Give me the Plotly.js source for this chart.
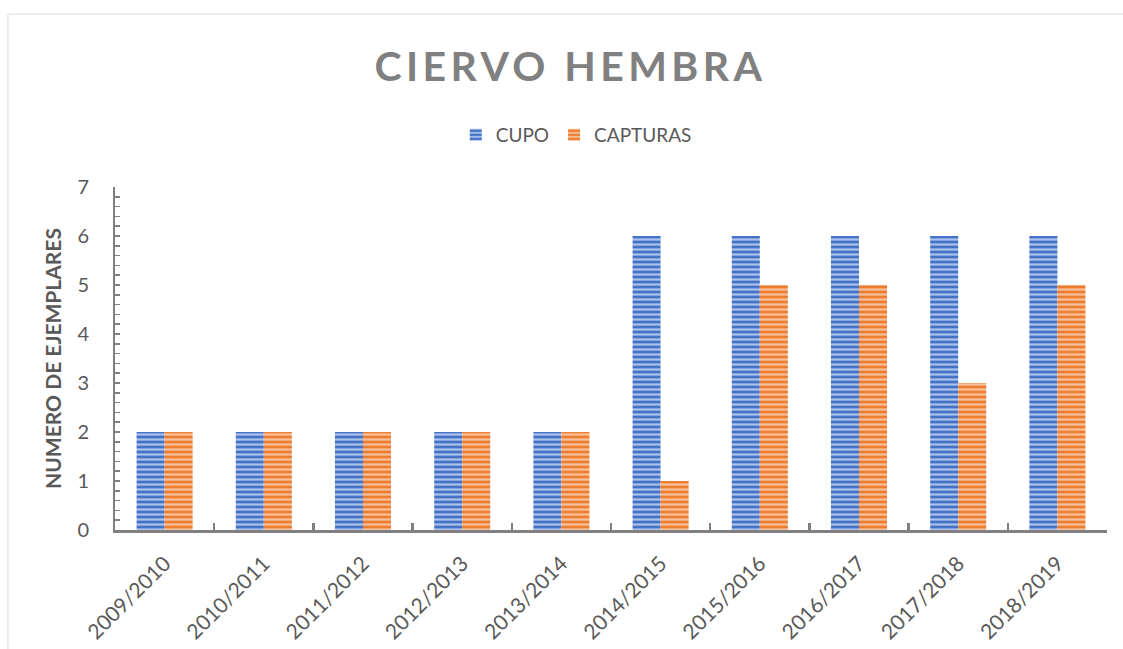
<!DOCTYPE html>
<html>
<head>
<meta charset="utf-8">
<script src="https://cdn.plot.ly/plotly-3.0.1.min.js"></script>
<style>
html,body{margin:0;padding:0;background:#fff;}
.gtitle{letter-spacing:4.4px;}
</style>
</head>
<body>
<div id="chart" style="width:1123px;height:649px;"></div>
<script>
const categories = ["2009/2010","2010/2011","2011/2012","2012/2013","2013/2014","2014/2015","2015/2016","2016/2017","2017/2018","2018/2019"];
const cupo = [2,2,2,2,2,6,6,6,6,6];
const capturas = [2,2,2,2,2,1,5,5,3,5];
const seriesNames = ["CUPO","CAPTURAS"];
const chartTitle = "CIERVO HEMBRA";
const yTitle = "NUMERO DE EJEMPLARES";

const FONT = "Lato, 'Open Sans', sans-serif";
const AX = "#808080";

function mk(name, y, bg, fg){
  return {
    type:"bar", name:name, x:categories, y:y,
    marker:{color:bg, line:{width:0},
      pattern:{shape:"-", bgcolor:bg, fgcolor:fg, size:5, solidity:0.45, fillmode:"replace"}},
    hoverinfo:"x+y+name"
  };
}
const data = [
  mk(seriesNames[0], cupo, "#4472C4", "#a9c1ec"),
  mk(seriesNames[1], capturas, "#ED7D31", "#f8c09a")
];

const layout = {
  width:1123, height:649,
  margin:{l:115, r:16, t:187, b:119, autoexpand:false},
  paper_bgcolor:"#fff", plot_bgcolor:"#fff",
  font:{family:FONT, color:"#595959", size:19},
  barmode:"group", bargap:0.435, bargroupgap:0,
  title:{text:chartTitle, x:0.508, xanchor:"center", y:0.898, yanchor:"middle",
    font:{family:FONT, size:41, color:"#808080", weight:"bold"}},
  showlegend:true,
  legend:{orientation:"h", x:0.465, xanchor:"center", y:1.1516, yanchor:"middle",
    font:{size:19, color:"#595959"}, itemwidth:30, traceorder:"normal"},
  xaxis:{type:"category", tickangle:-45, ticks:"inside", tickson:"boundaries", ticklen:7, tickwidth:2.5,
    tickcolor:AX, showline:true, linecolor:AX, linewidth:3, showgrid:false, zeroline:false,
    tickfont:{size:21, color:"#595959"}, automargin:false, ticklabelstandoff:10, fixedrange:true},
  yaxis:{range:[0,7], dtick:1, tick0:0, ticks:"inside", ticklen:5, tickwidth:1.5, tickcolor:AX,
    showline:true, linecolor:AX, linewidth:2, showgrid:false, zeroline:false,
    minor:{dtick:0.2, ticks:"inside", ticklen:5, tickwidth:1.5, tickcolor:AX, showgrid:false},
    tickfont:{size:20, color:"#595959"}, ticklabelstandoff:20, automargin:false,
    title:{text:yTitle, font:{size:21, color:"#595959", weight:"bold"}, standoff:10}, fixedrange:true},
  shapes:[{type:"rect", xref:"paper", yref:"paper", x0:-0.1079, x1:1.3, y0:1.504, y1:-1,
    line:{color:"#d9d9d9", width:1}, fillcolor:"rgba(0,0,0,0)", layer:"below"}]
};
Plotly.newPlot("chart", data, layout, {displayModeBar:false, staticPlot:true});
</script>
</body>
</html>
